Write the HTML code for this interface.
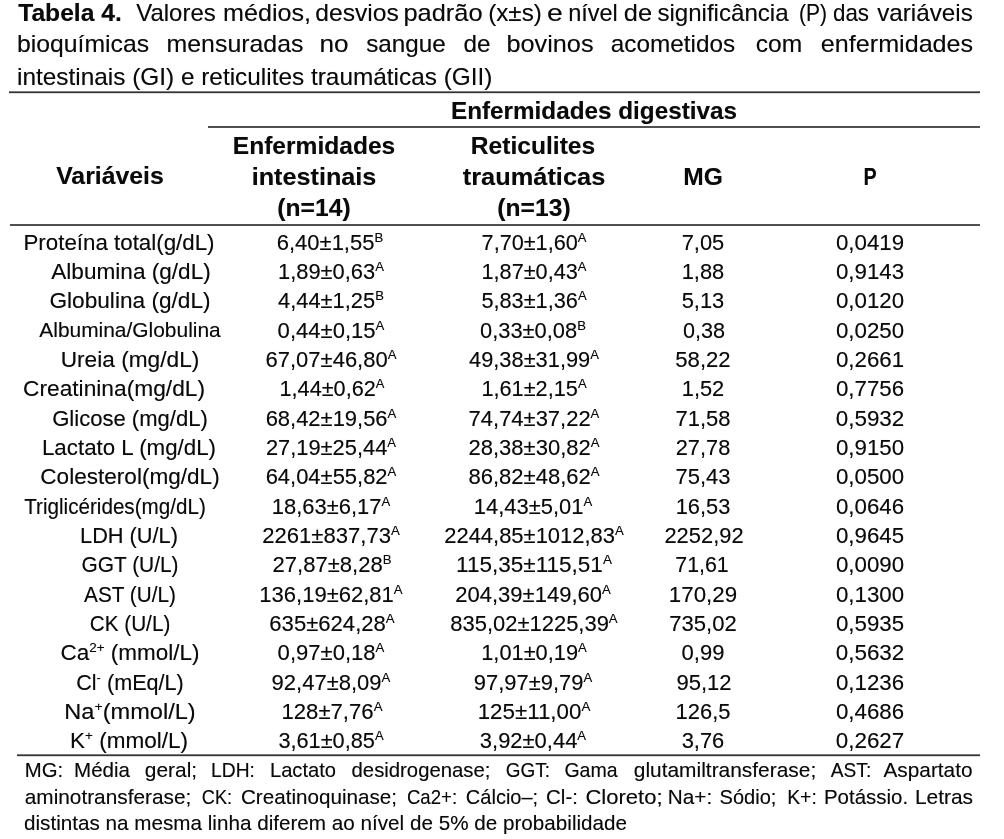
<!DOCTYPE html>
<html><head><meta charset="utf-8"><style>
html,body{margin:0;padding:0;background:#fff;width:1004px;height:839px;overflow:hidden}
body{position:relative;font-family:"Liberation Sans",sans-serif;color:#0a0a0a;filter:grayscale(1)}
.t,.j{text-shadow:0 0 0.7px rgba(0,0,0,0.4)}
.t{position:absolute;white-space:nowrap;line-height:1;transform-origin:50% 50%}
.j{position:absolute;white-space:nowrap;line-height:1;text-align:justify;transform-origin:0 50%;height:1em;overflow:visible}
.sp{font-size:0.6em;position:relative;top:-0.62em}
.r{position:absolute}
</style></head><body>
<div id="c1w0" class="t " style="left:69.53px;top:0.68px;font-size:24px;font-weight:bold;transform:translateX(-50%) scaleX(1.0269)">Tabela 4.</div>
<div id="c1w1" class="t " style="left:176.17px;top:0.68px;font-size:24px;transform:translateX(-50%) scaleX(0.9978)">Valores</div>
<div id="c1w2" class="t " style="left:266.55px;top:0.68px;font-size:24px;transform:translateX(-50%) scaleX(1.0480)">médios,</div>
<div id="c1w3" class="t " style="left:357.00px;top:0.68px;font-size:24px;transform:translateX(-50%) scaleX(1.0261)">desvios</div>
<div id="c1w4" class="t " style="left:443.25px;top:0.68px;font-size:24px;transform:translateX(-50%) scaleX(1.0592)">padrão</div>
<div id="c1w5" class="t " style="left:514.54px;top:0.68px;font-size:24px;transform:translateX(-50%) scaleX(1.0091)">(x±s)</div>
<div id="c1w6" class="t " style="left:554.59px;top:0.68px;font-size:24px;transform:translateX(-50%) scaleX(1.1832)">e</div>
<div id="c1w7" class="t " style="left:592.78px;top:0.68px;font-size:24px;transform:translateX(-50%) scaleX(0.9805)">nível</div>
<div id="c1w8" class="t " style="left:638.36px;top:0.68px;font-size:24px;transform:translateX(-50%) scaleX(1.0602)">de</div>
<div id="c1w9" class="t " style="left:723.38px;top:0.68px;font-size:24px;transform:translateX(-50%) scaleX(1.0038)">significância</div>
<div id="c1w10" class="t " style="left:813.33px;top:0.68px;font-size:24px;transform:translateX(-50%) scaleX(0.8728)">(P)</div>
<div id="c1w11" class="t " style="left:850.74px;top:0.68px;font-size:24px;transform:translateX(-50%) scaleX(0.9316)">das</div>
<div id="c1w12" class="t " style="left:925.09px;top:0.68px;font-size:24px;transform:translateX(-50%) scaleX(1.0091)">variáveis</div>
<div id="c2w0" class="t " style="left:83.21px;top:32.28px;font-size:24px;transform:translateX(-50%) scaleX(1.0316)">bioquímicas</div>
<div id="c2w1" class="t " style="left:234.68px;top:32.28px;font-size:24px;transform:translateX(-50%) scaleX(1.0364)">mensuradas</div>
<div id="c2w2" class="t " style="left:334.12px;top:32.28px;font-size:24px;transform:translateX(-50%) scaleX(1.0911)">no</div>
<div id="c2w3" class="t " style="left:405.88px;top:32.28px;font-size:24px;transform:translateX(-50%) scaleX(1.0104)">sangue</div>
<div id="c2w4" class="t " style="left:477.25px;top:32.28px;font-size:24px;transform:translateX(-50%) scaleX(1.0111)">de</div>
<div id="c2w5" class="t " style="left:550.49px;top:32.28px;font-size:24px;transform:translateX(-50%) scaleX(1.0523)">bovinos</div>
<div id="c2w6" class="t " style="left:673.44px;top:32.28px;font-size:24px;transform:translateX(-50%) scaleX(1.0128)">acometidos</div>
<div id="c2w7" class="t " style="left:779.38px;top:32.28px;font-size:24px;transform:translateX(-50%) scaleX(1.0238)">com</div>
<div id="c2w8" class="t " style="left:896.75px;top:32.28px;font-size:24px;transform:translateX(-50%) scaleX(1.0474)">enfermidades</div>
<div id="c3" class="j" style="left:16.88px;top:64.88px;width:940.82px;font-size:24px;text-align-last:left;transform:scaleX(1.0156)">intestinais (GI) e reticulites traumáticas (GII)</div>
<div id="h0" class="t " style="left:594.25px;top:99.26px;font-size:24.5px;font-weight:bold;transform:translateX(-50%) scaleX(0.9910)">Enfermidades digestivas</div>
<div id="h1" class="t " style="left:109.63px;top:164.46px;font-size:24.5px;font-weight:bold;transform:translateX(-50%) scaleX(1.0132)">Variáveis</div>
<div id="h2a" class="t " style="left:314.13px;top:134.26px;font-size:24.5px;font-weight:bold;transform:translateX(-50%) scaleX(1.0025)">Enfermidades</div>
<div id="h2b" class="t " style="left:313.80px;top:165.26px;font-size:24.5px;font-weight:bold;transform:translateX(-50%) scaleX(1.0289)">intestinais</div>
<div id="h2c" class="t " style="left:314.01px;top:196.46px;font-size:24.5px;font-weight:bold;transform:translateX(-50%) scaleX(1.0068)">(n=14)</div>
<div id="h3a" class="t " style="left:533.20px;top:134.26px;font-size:24.5px;font-weight:bold;transform:translateX(-50%) scaleX(1.0044)">Reticulites</div>
<div id="h3b" class="t " style="left:534.32px;top:165.26px;font-size:24.5px;font-weight:bold;transform:translateX(-50%) scaleX(1.0361)">traumáticas</div>
<div id="h3c" class="t " style="left:533.78px;top:196.46px;font-size:24.5px;font-weight:bold;transform:translateX(-50%) scaleX(1.0063)">(n=13)</div>
<div id="h4" class="t " style="left:703.30px;top:165.26px;font-size:24.5px;font-weight:bold;transform:translateX(-50%) scaleX(1.0038)">MG</div>
<div id="h5" class="t " style="left:870.35px;top:165.26px;font-size:24.5px;font-weight:bold;transform:translateX(-50%) scaleX(0.8055)">P</div>
<div id="r0c1" class="t " style="left:118.87px;top:231.62px;font-size:21.6px;transform:translateX(-50%) scaleX(1.0339)">Proteína total(g/dL)</div>
<div id="r1c1" class="t " style="left:130.58px;top:260.95px;font-size:21.6px;transform:translateX(-50%) scaleX(1.0462)">Albumina (g/dL)</div>
<div id="r2c1" class="t " style="left:129.63px;top:290.28px;font-size:21.6px;transform:translateX(-50%) scaleX(1.0490)">Globulina (g/dL)</div>
<div id="r3c1" class="t " style="left:129.65px;top:320.33px;font-size:20.74px;transform:translateX(-50%) scaleX(1.0087)">Albumina/Globulina</div>
<div id="r4c1" class="t " style="left:130.02px;top:348.94px;font-size:21.6px;transform:translateX(-50%) scaleX(1.0500)">Ureia (mg/dL)</div>
<div id="r5c1" class="t " style="left:114.24px;top:378.27px;font-size:21.6px;transform:translateX(-50%) scaleX(1.0532)">Creatinina(mg/dL)</div>
<div id="r6c1" class="t " style="left:130.38px;top:407.60px;font-size:21.6px;transform:translateX(-50%) scaleX(1.0212)">Glicose (mg/dL)</div>
<div id="r7c1" class="t " style="left:129.18px;top:436.93px;font-size:21.6px;transform:translateX(-50%) scaleX(1.0336)">Lactato L (mg/dL)</div>
<div id="r8c1" class="t " style="left:130.20px;top:466.26px;font-size:21.6px;transform:translateX(-50%) scaleX(1.0452)">Colesterol(mg/dL)</div>
<div id="r9c1" class="t " style="left:114.84px;top:495.59px;font-size:21.6px;transform:translateX(-50%) scaleX(0.9555)">Triglicérides(mg/dL)</div>
<div id="r10c1" class="t " style="left:129.20px;top:524.92px;font-size:21.6px;transform:translateX(-50%) scaleX(1.0067)">LDH (U/L)</div>
<div id="r11c1" class="t " style="left:130.20px;top:554.25px;font-size:21.6px;transform:translateX(-50%) scaleX(0.9678)">GGT (U/L)</div>
<div id="r12c1" class="t " style="left:130.00px;top:583.58px;font-size:21.6px;transform:translateX(-50%) scaleX(0.9607)">AST (U/L)</div>
<div id="r13c1" class="t " style="left:129.71px;top:612.91px;font-size:21.6px;transform:translateX(-50%) scaleX(0.9602)">CK (U/L)</div>
<div id="r14c1" class="t " style="left:129.87px;top:642.24px;font-size:21.6px;transform:translateX(-50%) scaleX(1.0413)">Ca<span class=sp>2+</span> (mmol/L)</div>
<div id="r15c1" class="t " style="left:130.35px;top:671.57px;font-size:21.6px;transform:translateX(-50%) scaleX(1.0009)">Cl<span class=sp>-</span> (mEq/L)</div>
<div id="r16c1" class="t " style="left:130.23px;top:700.90px;font-size:21.6px;transform:translateX(-50%) scaleX(1.0920)">Na<span class=sp>+</span>(mmol/L)</div>
<div id="r17c1" class="t " style="left:129.06px;top:730.23px;font-size:21.6px;transform:translateX(-50%) scaleX(1.0428)">K<span class=sp>+</span> (mmol/L)</div>
<div id="r0c2" class="t " style="left:330.42px;top:231.62px;font-size:21.6px;transform:translateX(-50%) scaleX(1.0177)">6,40±1,55<span class=sp>B</span></div>
<div id="r0c3" class="t " style="left:533.97px;top:231.62px;font-size:21.6px;transform:translateX(-50%) scaleX(1.0022)">7,70±1,60<span class=sp>A</span></div>
<div id="r0c4" class="t " style="left:703.46px;top:231.62px;font-size:21.6px;transform:translateX(-50%) scaleX(1.0135)">7,05</div>
<div id="r0c5" class="t " style="left:869.66px;top:231.62px;font-size:21.6px;transform:translateX(-50%) scaleX(1.0320)">0,0419</div>
<div id="r1c2" class="t " style="left:330.99px;top:260.95px;font-size:21.6px;transform:translateX(-50%) scaleX(1.0131)">1,89±0,63<span class=sp>A</span></div>
<div id="r1c3" class="t " style="left:534.38px;top:260.95px;font-size:21.6px;transform:translateX(-50%) scaleX(1.0031)">1,87±0,43<span class=sp>A</span></div>
<div id="r1c4" class="t " style="left:703.49px;top:260.95px;font-size:21.6px;transform:translateX(-50%) scaleX(1.0135)">1,88</div>
<div id="r1c5" class="t " style="left:869.66px;top:260.95px;font-size:21.6px;transform:translateX(-50%) scaleX(1.0320)">0,9143</div>
<div id="r2c2" class="t " style="left:331.27px;top:290.28px;font-size:21.6px;transform:translateX(-50%) scaleX(1.0120)">4,44±1,25<span class=sp>B</span></div>
<div id="r2c3" class="t " style="left:533.52px;top:290.28px;font-size:21.6px;transform:translateX(-50%) scaleX(1.0062)">5,83±1,36<span class=sp>A</span></div>
<div id="r2c4" class="t " style="left:703.46px;top:290.28px;font-size:21.6px;transform:translateX(-50%) scaleX(1.0135)">5,13</div>
<div id="r2c5" class="t " style="left:869.66px;top:290.28px;font-size:21.6px;transform:translateX(-50%) scaleX(1.0320)">0,0120</div>
<div id="r3c2" class="t " style="left:330.78px;top:319.61px;font-size:21.6px;transform:translateX(-50%) scaleX(1.0211)">0,44±0,15<span class=sp>A</span></div>
<div id="r3c3" class="t " style="left:533.05px;top:319.61px;font-size:21.6px;transform:translateX(-50%) scaleX(1.0131)">0,33±0,08<span class=sp>B</span></div>
<div id="r3c4" class="t " style="left:703.71px;top:319.61px;font-size:21.6px;transform:translateX(-50%) scaleX(1.0022)">0,38</div>
<div id="r3c5" class="t " style="left:869.66px;top:319.61px;font-size:21.6px;transform:translateX(-50%) scaleX(1.0320)">0,0250</div>
<div id="r4c2" class="t " style="left:331.03px;top:348.94px;font-size:21.6px;transform:translateX(-50%) scaleX(1.0196)">67,07±46,80<span class=sp>A</span></div>
<div id="r4c3" class="t " style="left:533.81px;top:348.94px;font-size:21.6px;transform:translateX(-50%) scaleX(1.0104)">49,38±31,99<span class=sp>A</span></div>
<div id="r4c4" class="t " style="left:703.07px;top:348.94px;font-size:21.6px;transform:translateX(-50%) scaleX(1.0245)">58,22</div>
<div id="r4c5" class="t " style="left:869.66px;top:348.94px;font-size:21.6px;transform:translateX(-50%) scaleX(1.0318)">0,2661</div>
<div id="r5c2" class="t " style="left:331.50px;top:378.27px;font-size:21.6px;transform:translateX(-50%) scaleX(1.0031)">1,44±0,62<span class=sp>A</span></div>
<div id="r5c3" class="t " style="left:533.52px;top:378.27px;font-size:21.6px;transform:translateX(-50%) scaleX(1.0060)">1,61±2,15<span class=sp>A</span></div>
<div id="r5c4" class="t " style="left:703.29px;top:378.27px;font-size:21.6px;transform:translateX(-50%) scaleX(1.0119)">1,52</div>
<div id="r5c5" class="t " style="left:869.66px;top:378.27px;font-size:21.6px;transform:translateX(-50%) scaleX(1.0320)">0,7756</div>
<div id="r6c2" class="t " style="left:331.22px;top:407.60px;font-size:21.6px;transform:translateX(-50%) scaleX(1.0166)">68,42±19,56<span class=sp>A</span></div>
<div id="r6c3" class="t " style="left:534.07px;top:407.60px;font-size:21.6px;transform:translateX(-50%) scaleX(1.0172)">74,74±37,22<span class=sp>A</span></div>
<div id="r6c4" class="t " style="left:703.17px;top:407.60px;font-size:21.6px;transform:translateX(-50%) scaleX(1.0181)">71,58</div>
<div id="r6c5" class="t " style="left:869.91px;top:407.60px;font-size:21.6px;transform:translateX(-50%) scaleX(1.0394)">0,5932</div>
<div id="r7c2" class="t " style="left:331.47px;top:436.93px;font-size:21.6px;transform:translateX(-50%) scaleX(1.0127)">27,19±25,44<span class=sp>A</span></div>
<div id="r7c3" class="t " style="left:533.74px;top:436.93px;font-size:21.6px;transform:translateX(-50%) scaleX(1.0198)">28,38±30,82<span class=sp>A</span></div>
<div id="r7c4" class="t " style="left:703.42px;top:436.93px;font-size:21.6px;transform:translateX(-50%) scaleX(1.0089)">27,78</div>
<div id="r7c5" class="t " style="left:869.66px;top:436.93px;font-size:21.6px;transform:translateX(-50%) scaleX(1.0320)">0,9150</div>
<div id="r8c2" class="t " style="left:331.22px;top:466.26px;font-size:21.6px;transform:translateX(-50%) scaleX(1.0166)">64,04±55,82<span class=sp>A</span></div>
<div id="r8c3" class="t " style="left:533.84px;top:466.26px;font-size:21.6px;transform:translateX(-50%) scaleX(1.0207)">86,82±48,62<span class=sp>A</span></div>
<div id="r8c4" class="t " style="left:703.17px;top:466.26px;font-size:21.6px;transform:translateX(-50%) scaleX(1.0181)">75,43</div>
<div id="r8c5" class="t " style="left:869.66px;top:466.26px;font-size:21.6px;transform:translateX(-50%) scaleX(1.0320)">0,0500</div>
<div id="r9c2" class="t " style="left:330.90px;top:495.59px;font-size:21.6px;transform:translateX(-50%) scaleX(1.0163)">18,63±6,17<span class=sp>A</span></div>
<div id="r9c3" class="t " style="left:533.42px;top:495.59px;font-size:21.6px;transform:translateX(-50%) scaleX(1.0170)">14,43±5,01<span class=sp>A</span></div>
<div id="r9c4" class="t " style="left:702.66px;top:495.59px;font-size:21.6px;transform:translateX(-50%) scaleX(1.0095)">16,53</div>
<div id="r9c5" class="t " style="left:869.66px;top:495.59px;font-size:21.6px;transform:translateX(-50%) scaleX(1.0320)">0,0646</div>
<div id="r10c2" class="t " style="left:330.99px;top:524.92px;font-size:21.6px;transform:translateX(-50%) scaleX(1.0228)">2261±837,73<span class=sp>A</span></div>
<div id="r10c3" class="t " style="left:533.87px;top:524.92px;font-size:21.6px;transform:translateX(-50%) scaleX(1.0165)">2244,85±1012,83<span class=sp>A</span></div>
<div id="r10c4" class="t " style="left:703.55px;top:524.92px;font-size:21.6px;transform:translateX(-50%) scaleX(1.0146)">2252,92</div>
<div id="r10c5" class="t " style="left:869.66px;top:524.92px;font-size:21.6px;transform:translateX(-50%) scaleX(1.0320)">0,9645</div>
<div id="r11c2" class="t " style="left:331.57px;top:554.25px;font-size:21.6px;transform:translateX(-50%) scaleX(1.0213)">27,87±8,28<span class=sp>B</span></div>
<div id="r11c3" class="t " style="left:533.68px;top:554.25px;font-size:21.6px;transform:translateX(-50%) scaleX(1.0432)">115,35±115,51<span class=sp>A</span></div>
<div id="r11c4" class="t " style="left:702.21px;top:554.25px;font-size:21.6px;transform:translateX(-50%) scaleX(0.9893)">71,61</div>
<div id="r11c5" class="t " style="left:869.66px;top:554.25px;font-size:21.6px;transform:translateX(-50%) scaleX(1.0320)">0,0090</div>
<div id="r12c2" class="t " style="left:331.41px;top:583.58px;font-size:21.6px;transform:translateX(-50%) scaleX(1.0197)">136,19±62,81<span class=sp>A</span></div>
<div id="r12c3" class="t " style="left:533.27px;top:583.58px;font-size:21.6px;transform:translateX(-50%) scaleX(1.0204)">204,39±149,60<span class=sp>A</span></div>
<div id="r12c4" class="t " style="left:703.36px;top:583.58px;font-size:21.6px;transform:translateX(-50%) scaleX(1.0343)">170,29</div>
<div id="r12c5" class="t " style="left:869.66px;top:583.58px;font-size:21.6px;transform:translateX(-50%) scaleX(1.0320)">0,1300</div>
<div id="r13c2" class="t " style="left:331.69px;top:612.91px;font-size:21.6px;transform:translateX(-50%) scaleX(1.0224)">635±624,28<span class=sp>A</span></div>
<div id="r13c3" class="t " style="left:533.68px;top:612.91px;font-size:21.6px;transform:translateX(-50%) scaleX(1.0162)">835,02±1225,39<span class=sp>A</span></div>
<div id="r13c4" class="t " style="left:703.11px;top:612.91px;font-size:21.6px;transform:translateX(-50%) scaleX(1.0218)">735,02</div>
<div id="r13c5" class="t " style="left:869.66px;top:612.91px;font-size:21.6px;transform:translateX(-50%) scaleX(1.0320)">0,5935</div>
<div id="r14c2" class="t " style="left:330.78px;top:642.24px;font-size:21.6px;transform:translateX(-50%) scaleX(1.0211)">0,97±0,18<span class=sp>A</span></div>
<div id="r14c3" class="t " style="left:533.62px;top:642.24px;font-size:21.6px;transform:translateX(-50%) scaleX(1.0092)">1,01±0,19<span class=sp>A</span></div>
<div id="r14c4" class="t " style="left:703.36px;top:642.24px;font-size:21.6px;transform:translateX(-50%) scaleX(1.0208)">0,99</div>
<div id="r14c5" class="t " style="left:869.91px;top:642.24px;font-size:21.6px;transform:translateX(-50%) scaleX(1.0394)">0,5632</div>
<div id="r15c2" class="t " style="left:331.49px;top:671.57px;font-size:21.6px;transform:translateX(-50%) scaleX(1.0193)">92,47±8,09<span class=sp>A</span></div>
<div id="r15c3" class="t " style="left:533.30px;top:671.57px;font-size:21.6px;transform:translateX(-50%) scaleX(1.0160)">97,97±9,79<span class=sp>A</span></div>
<div id="r15c4" class="t " style="left:703.87px;top:671.57px;font-size:21.6px;transform:translateX(-50%) scaleX(1.0204)">95,12</div>
<div id="r15c5" class="t " style="left:869.66px;top:671.57px;font-size:21.6px;transform:translateX(-50%) scaleX(1.0320)">0,1236</div>
<div id="r16c2" class="t " style="left:331.51px;top:700.90px;font-size:21.6px;transform:translateX(-50%) scaleX(1.0249)">128±7,76<span class=sp>A</span></div>
<div id="r16c3" class="t " style="left:533.87px;top:700.90px;font-size:21.6px;transform:translateX(-50%) scaleX(1.0337)">125±11,00<span class=sp>A</span></div>
<div id="r16c4" class="t " style="left:703.49px;top:700.90px;font-size:21.6px;transform:translateX(-50%) scaleX(1.0158)">126,5</div>
<div id="r16c5" class="t " style="left:869.66px;top:700.90px;font-size:21.6px;transform:translateX(-50%) scaleX(1.0320)">0,4686</div>
<div id="r17c2" class="t " style="left:330.61px;top:730.23px;font-size:21.6px;transform:translateX(-50%) scaleX(1.0059)">3,61±0,85<span class=sp>A</span></div>
<div id="r17c3" class="t " style="left:533.04px;top:730.23px;font-size:21.6px;transform:translateX(-50%) scaleX(1.0165)">3,92±0,44<span class=sp>A</span></div>
<div id="r17c4" class="t " style="left:703.46px;top:730.23px;font-size:21.6px;transform:translateX(-50%) scaleX(1.0135)">3,76</div>
<div id="r17c5" class="t " style="left:869.91px;top:730.23px;font-size:21.6px;transform:translateX(-50%) scaleX(1.0394)">0,2627</div>
<div id="f1w0" class="t " style="left:43.63px;top:759.99px;font-size:20.8px;transform:translateX(-50%) scaleX(0.9794)">MG:</div>
<div id="f1w1" class="t " style="left:102.12px;top:759.99px;font-size:20.8px;transform:translateX(-50%) scaleX(0.9865)">Média</div>
<div id="f1w2" class="t " style="left:171.44px;top:759.99px;font-size:20.8px;transform:translateX(-50%) scaleX(1.0049)">geral;</div>
<div id="f1w3" class="t " style="left:233.24px;top:759.99px;font-size:20.8px;transform:translateX(-50%) scaleX(0.9265)">LDH:</div>
<div id="f1w4" class="t " style="left:302.54px;top:759.99px;font-size:20.8px;transform:translateX(-50%) scaleX(0.9700)">Lactato</div>
<div id="f1w5" class="t " style="left:421.24px;top:759.99px;font-size:20.8px;transform:translateX(-50%) scaleX(0.9770)">desidrogenase;</div>
<div id="f1w6" class="t " style="left:527.95px;top:759.99px;font-size:20.8px;transform:translateX(-50%) scaleX(0.9119)">GGT:</div>
<div id="f1w7" class="t " style="left:591.49px;top:759.99px;font-size:20.8px;transform:translateX(-50%) scaleX(0.9394)">Gama</div>
<div id="f1w8" class="t " style="left:724.65px;top:759.99px;font-size:20.8px;transform:translateX(-50%) scaleX(1.0052)">glutamiltransferase;</div>
<div id="f1w9" class="t " style="left:850.50px;top:759.99px;font-size:20.8px;transform:translateX(-50%) scaleX(0.9198)">AST:</div>
<div id="f1w10" class="t " style="left:928.48px;top:759.99px;font-size:20.8px;transform:translateX(-50%) scaleX(1.0001)">Aspartato</div>
<div id="f2w0" class="t " style="left:107.50px;top:787.39px;font-size:20.8px;transform:translateX(-50%) scaleX(1.0002)">aminotransferase;</div>
<div id="f2w1" class="t " style="left:216.51px;top:787.39px;font-size:20.8px;transform:translateX(-50%) scaleX(0.8725)">CK:</div>
<div id="f2w2" class="t " style="left:319.42px;top:787.39px;font-size:20.8px;transform:translateX(-50%) scaleX(0.9927)">Creatinoquinase;</div>
<div id="f2w3" class="t " style="left:431.60px;top:787.39px;font-size:20.8px;transform:translateX(-50%) scaleX(0.8951)">Ca2+:</div>
<div id="f2w4" class="t " style="left:501.74px;top:787.39px;font-size:20.8px;transform:translateX(-50%) scaleX(0.9619)">Cálcio–;</div>
<div id="f2w5" class="t " style="left:561.84px;top:787.39px;font-size:20.8px;transform:translateX(-50%) scaleX(0.9863)">Cl-:</div>
<div id="f2w6" class="t " style="left:623.70px;top:787.39px;font-size:20.8px;transform:translateX(-50%) scaleX(1.0591)">Cloreto;</div>
<div id="f2w7" class="t " style="left:689.66px;top:787.39px;font-size:20.8px;transform:translateX(-50%) scaleX(0.9976)">Na+:</div>
<div id="f2w8" class="t " style="left:747.90px;top:787.39px;font-size:20.8px;transform:translateX(-50%) scaleX(0.9645)">Sódio;</div>
<div id="f2w9" class="t " style="left:801.51px;top:787.39px;font-size:20.8px;transform:translateX(-50%) scaleX(0.9315)">K+:</div>
<div id="f2w10" class="t " style="left:866.35px;top:787.39px;font-size:20.8px;transform:translateX(-50%) scaleX(0.9835)">Potássio.</div>
<div id="f2w11" class="t " style="left:944.47px;top:787.39px;font-size:20.8px;transform:translateX(-50%) scaleX(1.0068)">Letras</div>
<div id="f3" class="j" style="left:24.30px;top:813.39px;width:953.72px;font-size:20.8px;text-align-last:left;transform:scaleX(0.9936)">distintas na mesma linha diferem ao nível de 5% de probabilidade</div>
<div class="r" style="left:9.0px;top:91px;width:971.0px;height:3px;background:linear-gradient(#7a7a7a 0 1px,#353535 1px 2px,#dcdcdc 2px 3px)"></div>
<div class="r" style="left:208.0px;top:126px;width:772.0px;height:2px;background:#505050"></div>
<div class="r" style="left:9.5px;top:224px;width:970.5px;height:2px;background:#505050"></div>
<div class="r" style="left:17.0px;top:754px;width:963.0px;height:3px;background:linear-gradient(#7a7a7a 0 1px,#353535 1px 2px,#dcdcdc 2px 3px)"></div>
</body></html>
